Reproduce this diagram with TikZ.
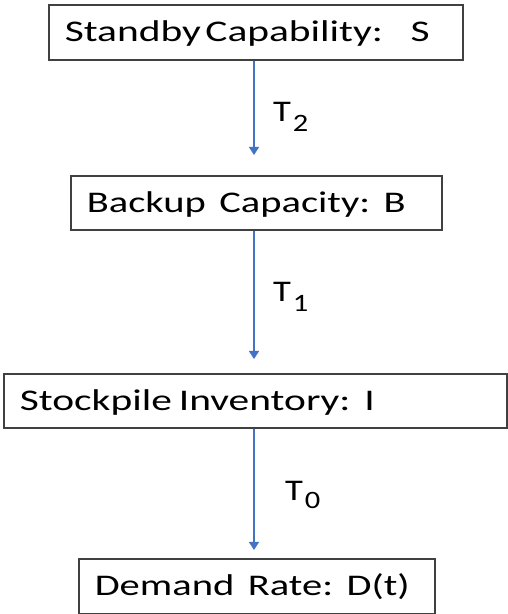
\documentclass[tikz,border=0pt]{standalone}
\usepackage{fontspec}
\usepackage{graphicx}
\setmainfont{Carlito}
\usetikzlibrary{arrows.meta}
\frenchspacing
\definecolor{boxline}{HTML}{404040}
\definecolor{flowblue}{HTML}{4472C4}
% widened caption text: first argument is the printed width
\newcommand{\widetext}[2]{\resizebox{#1}{\height}{#2}}
% lead-time symbol T with a lowered index
\newcommand{\tlabel}[2]{\scalebox{1.22}[1]{T\kern1.5pt\raisebox{#1}{\fontsize{25}{25}\selectfont #2}}}
\begin{document}
\begin{tikzpicture}[x=1pt,y=1pt,
  stagebox/.style={draw=boxline, line width=1.6pt, fill=white, anchor=north west,
    inner xsep=16pt, inner ysep=0pt, align=left,
    text height=19pt, text depth=0pt,
    font=\fontsize{30}{32}\selectfont},
  flow/.style={draw=flowblue, line width=1.4pt,
    -{Triangle[width=10pt,length=8pt]}},
  lagtext/.style={anchor=base west, inner sep=0pt, font=\fontsize{30}{32}\selectfont}]
\useasboundingbox (0,0) rectangle (507,614);
% stages of the supply chain, top to bottom
\node[stagebox, text width=382pt, minimum height=55pt] (standby) at (48,610)
  {\widetext{365pt}{Standby\hspace{0.11em}Capability:\ \ S}};
\node[stagebox, text width=339pt, minimum height=54pt] (backup) at (70,439)
  {\widetext{319pt}{Backup Capacity: B}};
\node[stagebox, text width=471pt, minimum height=54pt] (stock) at (3,241)
  {\widetext{355pt}{Stockpile\hspace{0.17em}Inventory: I}};
\node[stagebox, text width=324pt, minimum height=55pt] (demand) at (78,56)
  {\widetext{315pt}{Demand Rate: D(t)}};
% common vertical line of the arrows
\coordinate (axis) at (254,0);
\draw[flow, shorten >=20pt] (standby.south -| axis) -- (backup.north -| axis);
\draw[flow, shorten >=14pt] (backup.south -| axis) -- (stock.north -| axis);
\draw[flow, shorten >=8pt] (stock.south -| axis) -- (demand.north -| axis);
% lead times
\node[lagtext] (t2) at (273,492) {\tlabel{-10pt}{2}};
\node[lagtext] (t1) at (273,312) {\tlabel{-10pt}{1}};
\node[lagtext] (t0) at (285,113.5) {\tlabel{-8pt}{0}};
\end{tikzpicture}
\end{document}
